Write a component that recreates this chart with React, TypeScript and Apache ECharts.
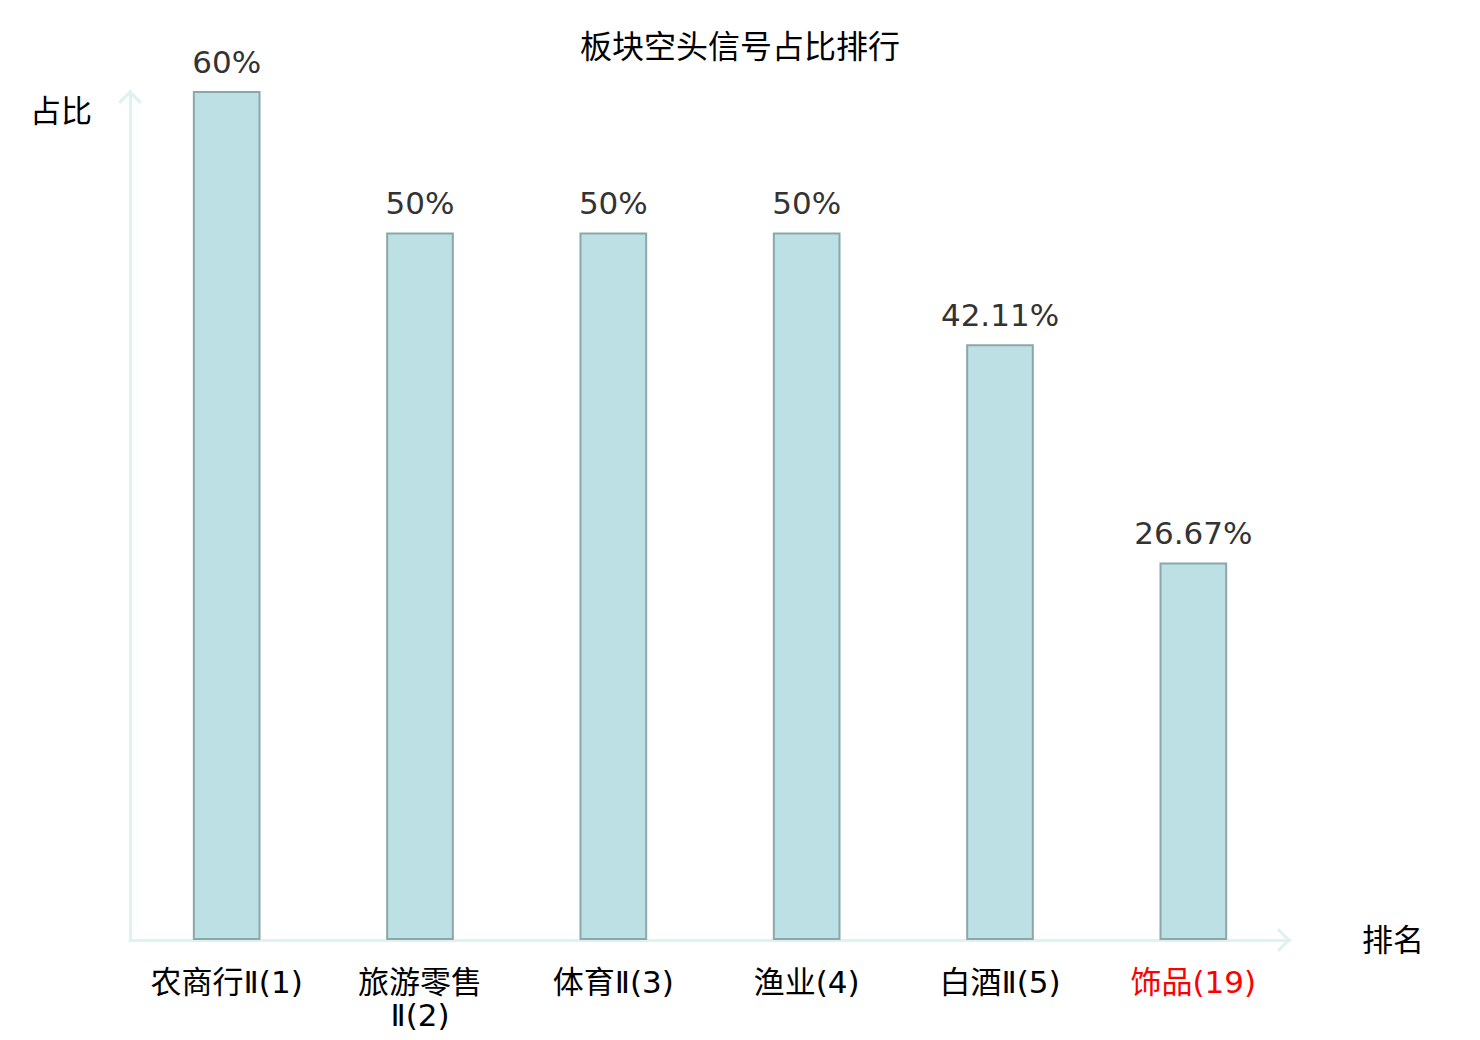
import React, { useEffect, useRef } from "react";
import * as echarts from "echarts";

const TITLE = "板块空头信号占比排行";
const categories = ["农商行Ⅱ(1)", "旅游零售Ⅱ(2)", "体育Ⅱ(3)", "渔业(4)", "白酒Ⅱ(5)", "饰品(19)"];
const values = [60, 50, 50, 50, 42.11, 26.67];
const highlightIndex = 5;
const yName = "占比";
const xName = "排名";

const chevron = "path://M10,0 L20,10 L18.2,11.8 L10,3.6 L1.8,11.8 L0,10 Z";

export default function App() {
  const ref = useRef<HTMLDivElement>(null);
  useEffect(() => {
    if (!ref.current) return;
    const chart = echarts.init(ref.current, undefined, { renderer: "svg" });
    const axisColor = "#def2ef";
    chart.setOption({
      animation: false,
      textStyle: { fontFamily: "DejaVu Sans, Noto Sans CJK SC, sans-serif" },
      title: {
        text: TITLE,
        left: "center",
        top: 26,
        textStyle: { fontSize: 32, fontWeight: "normal", color: "#000" },
      },
      grid: { left: 130, right: 190, top: 91, bottom: 100 },
      xAxis: {
        type: "category",
        data: categories,
        name: xName,
        nameLocation: "end",
        nameGap: 72,
        nameTextStyle: { fontSize: 31, color: "#000" },
        axisLine: {
          show: true,
          lineStyle: { color: axisColor, width: 3 },
          symbol: ["none", chevron],
          symbolSize: [24, 14],
          symbolOffset: [0, -6],
        },
        axisTick: { show: false },
        axisLabel: {
          fontSize: 31,
          margin: 25,
          lineHeight: 33,
          interval: 0,
          color: (_v: any, i: number) => (i === highlightIndex ? "#ff0000" : "#000"),
          formatter: (v: string) => (v.length > 7 ? v.replace("Ⅱ", "\nⅡ") : v),
        },
      },
      yAxis: {
        type: "value",
        min: 0,
        max: 60,
        name: yName,
        nameLocation: "end",
        nameGap: -4,
        nameTextStyle: {
          fontSize: 31,
          color: "#000",
          align: "right",
          verticalAlign: "top",
          padding: [0, 38, 0, 0],
        },
        axisLine: {
          show: true,
          lineStyle: { color: axisColor, width: 3 },
          symbol: ["none", chevron],
          symbolSize: [24, 14],
          symbolOffset: [0, -6],
        },
        axisTick: { show: false },
        axisLabel: { show: false },
        splitLine: { show: false },
      },
      series: [
        {
          type: "bar",
          data: values,
          barWidth: "35%",
          itemStyle: { color: "#bce0e3", borderColor: "#8aa8a9", borderWidth: 2 },
          label: {
            show: true,
            position: "top",
            distance: 14,
            fontSize: 31,
            color: "#333",
            formatter: "{c}%",
          },
        },
      ],
    });
    return () => chart.dispose();
  }, []);
  return <div ref={ref} style={{ position: "absolute", left: 0, top: 0, width: 1480, height: 1040 }} />;
}
